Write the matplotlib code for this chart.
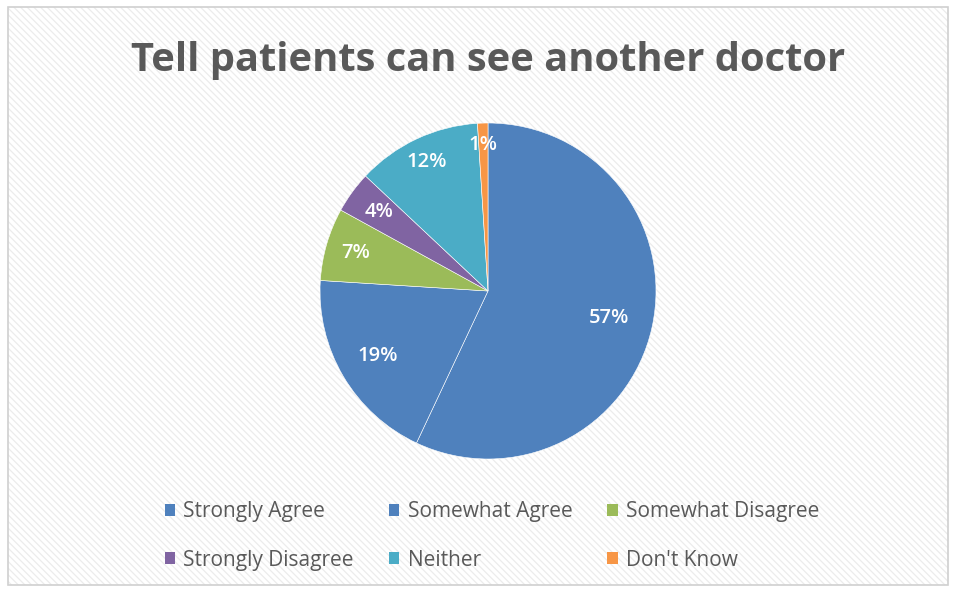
import matplotlib
matplotlib.use("Agg")
import numpy as np
import matplotlib.pyplot as plt
from matplotlib.patches import Rectangle, Patch

categories = ["Strongly Agree", "Somewhat Agree", "Somewhat Disagree",
              "Strongly Disagree", "Neither", "Don't Know"]
values = [57, 19, 7, 4, 12, 1]
colors = ["#4F81BD", "#4F81BD", "#9BBB59", "#8064A2", "#4BACC6", "#F79646"]
title = "Tell patients can see another doctor"

# radial position of each percentage label (fraction of radius)
label_dist = [0.74, 0.76, 0.82, 0.80, 0.85, 0.87]

plt.rcParams['font.family'] = ['Open Sans', 'DejaVu Sans']
plt.rcParams['hatch.linewidth'] = 0.9

W, H = 956, 589
fig = plt.figure(figsize=(W / 100, H / 100), dpi=100)
fig.patch.set_facecolor("white")

# hatched background with border
bg = Rectangle((8 / W, 4 / H), 940 / W, 578 / H, transform=fig.transFigure,
               facecolor="white", edgecolor="#ececec", linewidth=0,
               hatch="\\\\\\\\\\", zorder=-10)
fig.patches.append(bg)
border = Rectangle((8 / W, 4 / H), 940 / W, 578 / H, transform=fig.transFigure,
                   facecolor="none", edgecolor="#d0d0d0", linewidth=1.2, zorder=-9)
fig.patches.append(border)

# pie axes
cx, cy, r = 488, 291, 168
ax = fig.add_axes([(cx - r) / W, (H - cy - r) / H, 2 * r / W, 2 * r / H])
ax.set_aspect("equal")
wedges, texts, autotexts = ax.pie(
    values, colors=colors, startangle=90, counterclock=False,
    autopct="%1.0f%%", pctdistance=0.75,
    wedgeprops=dict(edgecolor="white", linewidth=0.4),
    textprops=dict(color="white", fontsize=14.5, fontweight="semibold"))
for w, t, d in zip(wedges, autotexts, label_dist):
    ang = np.deg2rad((w.theta1 + w.theta2) / 2)
    t.set_position((d * np.cos(ang), d * np.sin(ang)))
ax.set_xlim(-1, 1)
ax.set_ylim(-1, 1)
ax.axis("off")

fig.text(cx / W, 1 - 61 / H, title, ha="center", va="center",
         fontsize=28.7, fontweight="bold", color="#595959")

# legend (row-major order)
handles = [Patch(facecolor=c, edgecolor="none") for c in colors]
order = [0, 3, 1, 4, 2, 5]
leg = fig.legend([handles[i] for i in order], [categories[i] for i in order],
                 ncol=3, loc="center", bbox_to_anchor=(492 / W, 1 - 536 / H),
                 frameon=False, fontsize=15, handlelength=0.5, handleheight=0.5,
                 handletextpad=0.4, columnspacing=1.68, labelspacing=1.32,
                 labelcolor="#595959")

fig.savefig("out.png", dpi=100)
